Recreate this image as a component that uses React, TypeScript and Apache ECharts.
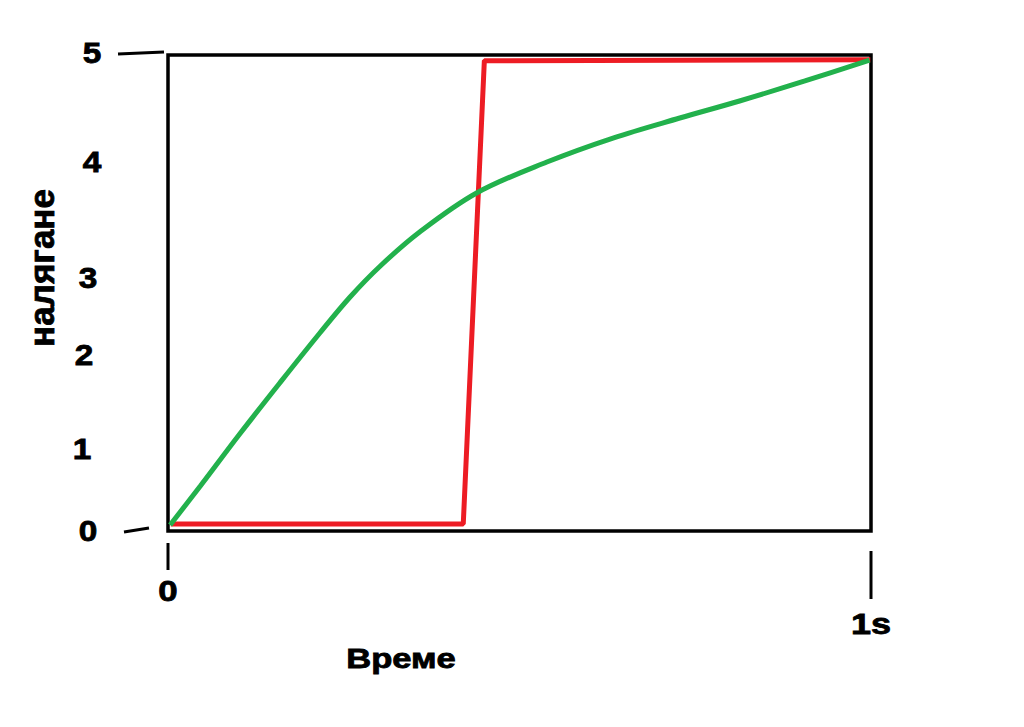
import React, { useEffect, useRef } from "react";
import * as echarts from "echarts";

// ---- data ----
const redTime = [0.004, 0.42, 0.45, 0.999];
const redPressure = [0.074, 0.074, 4.94, 4.95];

const greenTime = [0.003, 0.046, 0.102, 0.159, 0.216, 0.259, 0.302, 0.358, 0.439, 0.539, 0.633, 0.728, 0.813, 0.906, 0.998];
const greenPressure = [0.063, 0.473, 1.019, 1.555, 2.08, 2.458, 2.784, 3.141, 3.551, 3.876, 4.128, 4.338, 4.517, 4.727, 4.947];

const yTickLabels = ["0", "1", "2", "3", "4", "5"];
const yTickValues = [0, 0.86, 1.85, 2.65, 3.87, 5.02];

const xTickLabels = ["0", "1s"];
const xTickValues = [0, 1];

const yAxisName = "налягане";
const xAxisName = "Време";

// ---- layout (pixel offsets, not data) ----
const yLabelOffsetX = [-80, -86, -84, -80, -76, -76];
const xLabelOffsetY = [60, 93];
const FONT = "Liberation Sans";

export default function App() {
  const ref = useRef<HTMLDivElement>(null);

  useEffect(() => {
    const chart = echarts.init(ref.current!, null, { renderer: "svg" });
    const hiddenAxis = {
      axisLine: { show: false },
      axisTick: { show: false },
      axisLabel: { show: false },
      splitLine: { show: false },
    };
    chart.setOption({
      animation: false,
      backgroundColor: "#ffffff",
      grid: {
        left: 168,
        top: 55,
        width: 703,
        height: 476,
        show: true,
        borderColor: "#000000",
        borderWidth: 3.5,
        backgroundColor: "transparent",
      },
      xAxis: { type: "value", min: 0, max: 1, ...hiddenAxis },
      yAxis: { type: "value", min: 0, max: 5, ...hiddenAxis },
      series: [
        {
          type: "line",
          data: redTime.map((t, i) => [t, redPressure[i]]),
          symbol: "none",
          lineStyle: { color: "#ED1C24", width: 5 },
          z: 2,
        },
        {
          type: "line",
          data: greenTime.map((t, i) => [t, greenPressure[i]]),
          symbol: "none",
          smooth: 0.35,
          lineStyle: { color: "#22B14C", width: 5 },
          z: 3,
        },
      ],
    });

    const px = (x: number, y: number) => chart.convertToPixel({ gridIndex: 0 }, [x, y]) as number[];
    const graphics: any[] = [];
    const textStyle = (text: string, size: number) => ({
      text,
      fill: "#000",
      stroke: "#000",
      lineWidth: 0.8,
      font: `bold ${size}px "${FONT}"`,
      textAlign: "center",
      textVerticalAlign: "middle",
    });

    yTickLabels.forEach((lab, i) => {
      const p = px(0, yTickValues[i]);
      graphics.push({
        type: "text",
        x: p[0] + yLabelOffsetX[i],
        y: p[1],
        scaleX: 1.15,
        style: textStyle(lab, 29),
      });
    });

    // hand-drawn y ticks at 5 and 0
    const p5 = px(0, 5);
    graphics.push({
      type: "line",
      shape: { x1: p5[0] - 50, y1: p5[1] - 1, x2: p5[0] - 4, y2: p5[1] - 3 },
      style: { stroke: "#000", lineWidth: 3 },
    });
    const p0 = px(0, 0);
    graphics.push({
      type: "line",
      shape: { x1: p0[0] - 44, y1: p0[1] + 1, x2: p0[0] - 19, y2: p0[1] - 3 },
      style: { stroke: "#000", lineWidth: 3 },
    });

    // x ticks
    const xTickSpans = [
      [12, 39],
      [20, 68],
    ];
    xTickLabels.forEach((lab, i) => {
      const p = px(xTickValues[i], 0);
      graphics.push({
        type: "line",
        shape: { x1: p[0], y1: p[1] + xTickSpans[i][0], x2: p[0], y2: p[1] + xTickSpans[i][1] },
        style: { stroke: "#000", lineWidth: 3 },
      });
      graphics.push({
        type: "text",
        x: p[0],
        y: p[1] + xLabelOffsetY[i],
        scaleX: 1.2,
        style: textStyle(lab, i === 0 ? 29 : 30),
      });
    });

    // axis names
    graphics.push({
      type: "text",
      x: 401,
      y: 659,
      scaleX: 1.28,
      style: textStyle(xAxisName, 27),
    });
    graphics.push({
      type: "text",
      x: 41,
      y: 268,
      rotation: Math.PI / 2,
      style: textStyle(yAxisName, 35),
    });

    chart.setOption({ graphic: graphics });

    return () => chart.dispose();
  }, []);

  return (
    <div
      ref={ref}
      style={{ position: "fixed", left: 0, top: 0, width: 1024, height: 727, background: "#fff" }}
    />
  );
}
